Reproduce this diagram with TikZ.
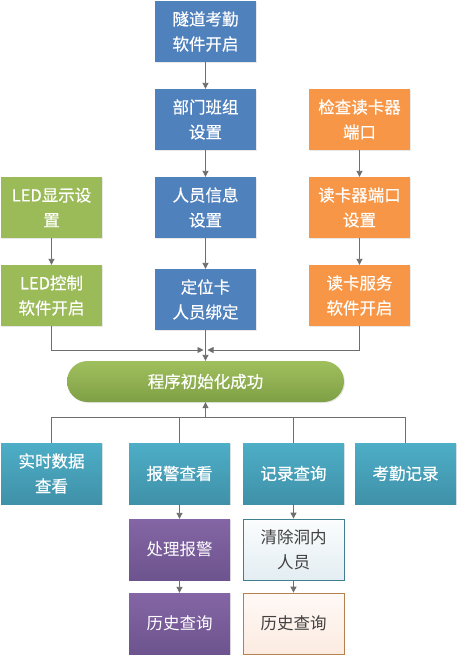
\documentclass[tikz,border=0pt]{standalone}
\usepackage{fontspec}
\newfontfamily\cjk{Noto Sans CJK SC}
\newfontfamily\cjkm[FakeBold=0.5]{Noto Sans CJK SC}
\usetikzlibrary{arrows.meta,shadows}
\definecolor{cblue}{HTML}{4F81BD}
\definecolor{corange}{HTML}{F79646}
\definecolor{cgreen}{HTML}{9BBB59}
\definecolor{ctealT}{HTML}{4DAEC7}
\definecolor{ctealB}{HTML}{3F91A8}
\definecolor{cpurT}{HTML}{8465A5}
\definecolor{cpurB}{HTML}{6D548E}
\definecolor{cpillT}{HTML}{A0C05E}
\definecolor{cpillB}{HTML}{7F9F45}
\definecolor{cline}{HTML}{6E6E6E}
\definecolor{cclrT}{HTML}{FBFDFE}
\definecolor{cclrB}{HTML}{E3EDF2}
\definecolor{cclrD}{HTML}{3F7F90}
\definecolor{cpchT}{HTML}{FFF9F6}
\definecolor{cpchB}{HTML}{FCEBE1}
\definecolor{cpchD}{HTML}{B5814F}
\definecolor{cdark}{HTML}{404040}
\tikzset{
  x=1pt, y=-1pt,
  box/.style={minimum width=101pt, minimum height=61pt, inner sep=0pt, align=center,
    font=\cjkm\fontsize{16.5}{25}\selectfont, text=white,
    drop shadow={shadow xshift=1pt, shadow yshift=-1pt, opacity=0.18}},
  bluebox/.style={box, fill=cblue},
  orangebox/.style={box, fill=corange},
  greenbox/.style={box, fill=cgreen},
  tealbox/.style={box, top color=ctealT, bottom color=ctealB},
  purbox/.style={box, top color=cpurT, bottom color=cpurB, font=\cjk\fontsize{16.5}{25}\selectfont},
  clrbox/.style={box, top color=cclrT, bottom color=cclrB, draw=cclrD, line width=0.8pt, text=cdark,
    font=\cjk\fontsize{16.5}{25}\selectfont},
  pchbox/.style={box, top color=cpchT, bottom color=cpchB, draw=cpchD, line width=0.8pt, text=cdark,
    font=\cjk\fontsize{16.5}{25}\selectfont},
  pill/.style={minimum width=277pt, minimum height=41pt, rounded corners=20.5pt, inner sep=0pt,
    top color=cpillT, bottom color=cpillB, text=white, font=\cjkm\fontsize{16.5}{25}\selectfont,
    drop shadow={shadow xshift=1pt, shadow yshift=-1pt, opacity=0.18}},
  conn/.style={draw=cline, line width=0.9pt},
  arr/.style={conn, -{Triangle[width=6pt,length=6pt]}},
}
\begin{document}
\begin{tikzpicture}
\useasboundingbox[fill=white] (0,0) rectangle (459,657);
% column 2 (blue)
\node[bluebox] (start) at (205.5,31.5) {隧道考勤\\软件开启};
\node[bluebox] (dept) at (205.5,119.5) {部门班组\\设置};
\node[bluebox] (info) at (205.5,207.5) {人员信息\\设置};
\node[bluebox] (bind) at (205.5,299.5) {定位卡\\人员绑定};
% column 1 (green)
\node[greenbox] (ledset) at (51.5,207.5) {LED显示设\\置};
\node[greenbox] (ledctl) at (51.5,295.5) {LED控制\\软件开启};
% column 3 (orange)
\node[orangebox] (chk) at (359.5,119.5) {检查读卡器\\端口};
\node[orangebox] (port) at (359.5,207.5) {读卡器端口\\设置};
\node[orangebox] (svc) at (359.5,295.5) {读卡服务\\软件开启};
% pill
\node[pill] (init) at (205.5,381.5) {程序初始化成功};
% bottom row
\node[tealbox] (rt) at (51.5,473.5) {实时数据\\查看};
\node[tealbox] (alarm) at (179.5,473.5) {报警查看};
\node[tealbox] (rec) at (293.5,473.5) {记录查询};
\node[tealbox] (att) at (405.5,473.5) {考勤记录};
\node[purbox] (proc) at (179.5,549.5) {处理报警};
\node[purbox] (hist1) at (179.5,623.5) {历史查询};
\node[clrbox] (clear) at (293.5,549.5) {清除洞内\\人员};
\node[pchbox] (hist2) at (293.5,623.5) {历史查询};
% coordinates
\coordinate (jl) at (203.5,350);
\coordinate (jr) at (207.5,350);
\coordinate (bus) at (205.5,417);
% connectors
\draw[arr] (start) -- (dept);
\draw[arr] (dept) -- (info);
\draw[arr] (info) -- (bind);
\draw[arr] (ledset) -- (ledctl);
\draw[arr] (chk) -- (port);
\draw[arr] (port) -- (svc);
\draw[arr] (ledctl.south) |- (jl);
\draw[arr] (svc.south) |- (jr);
\draw[arr] (bind.south) -- (init.north);
\draw[conn] (rt.north) |- (bus);
\draw[conn] (alarm.north) |- (bus);
\draw[conn] (rec.north) |- (bus);
\draw[conn] (att.north) |- (bus);
\draw[arr] (bus) -- (init.south);
\draw[arr] (alarm) -- (proc);
\draw[arr] (proc) -- (hist1);
\draw[arr] (rec) -- (clear);
\draw[arr] (clear) -- (hist2);
\end{tikzpicture}
\end{document}
